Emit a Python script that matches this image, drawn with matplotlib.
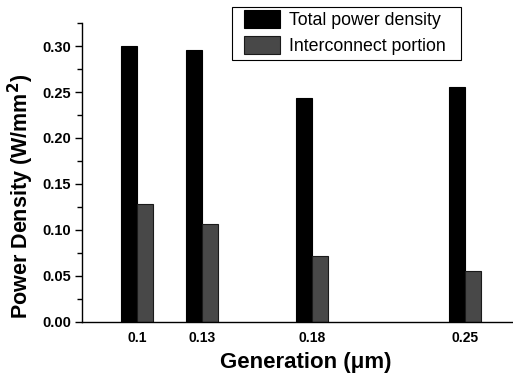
import numpy as np
import matplotlib
matplotlib.use("Agg")
import matplotlib.pyplot as plt
from matplotlib.patches import Rectangle
from matplotlib.ticker import MultipleLocator

#data
generations = [0.1, 0.13, 0.18, 0.25]
gen_labels = ["0.1", "0.13", "0.18", "0.25"]
total_power = [0.300, 0.296, 0.243, 0.255]
interconnect = [0.128, 0.106, 0.072, 0.055]

plt.rcParams["font.family"] = ["Liberation Sans", "DejaVu Sans"]

W, H = 513, 373
fig = plt.figure(figsize=(W / 100, H / 100), dpi=100)
ax = fig.add_axes([0.160, 0.1375, 0.840, 0.8005])

x = np.array(generations)
w = 0.0073
ax.bar(x - w / 2, total_power, width=w, color="black", edgecolor="black", linewidth=0.8, label="Total power density")
ax.bar(x + w / 2, interconnect, width=w, color="#484848", edgecolor="#1a1a1a", linewidth=0.8, label="Interconnect portion")

ax.set_xlim(0.075, 0.272)
ax.set_ylim(0, 0.325)

#axes style: only left and bottom lines
ax.spines["top"].set_visible(False)
ax.spines["right"].set_visible(False)
for s in ["left", "bottom"]:
    ax.spines[s].set_linewidth(1.0)

ax.set_xticks(generations)
ax.set_xticklabels(gen_labels, fontsize=10, fontweight="bold")
ax.tick_params(axis="x", length=0, pad=7)

ax.yaxis.set_minor_locator(MultipleLocator(0.025))
ax.set_yticks(np.arange(0, 0.31, 0.05))
ax.set_yticklabels([f"{v:.2f}" for v in np.arange(0, 0.31, 0.05)], fontsize=10.5, fontweight="bold")
ax.tick_params(axis="y", which="major", direction="out", length=5, width=1, pad=3)
ax.tick_params(axis="y", which="minor", direction="out", length=3.4, width=1)

ax.set_xlabel("Generation (\u03bcm)", fontsize=16, fontweight="bold")
ax.xaxis.set_label_coords(0.52, -0.1)
ax.set_ylabel("Power Density (W/mm$^\\mathbf{2}$)", fontsize=15.5, fontweight="bold")
ax.yaxis.set_label_coords(-0.108, 0.42)

#legend without its own frame; the box is drawn separately to get the wide left padding
leg = fig.legend(loc="upper left", bbox_to_anchor=(244 / W, 1 - 10 / H), frameon=False,
                 fontsize=12.8, handlelength=2.0, handleheight=1.15, borderaxespad=0, borderpad=0,
                 labelspacing=0.4, handletextpad=0.55)
fig.patches.append(Rectangle((232 / W, 1 - 60 / H), (461 - 232) / W, 53 / H, transform=fig.transFigure,
                             facecolor="none", edgecolor="black", linewidth=0.8))

plt.savefig("out.png", dpi=100)
